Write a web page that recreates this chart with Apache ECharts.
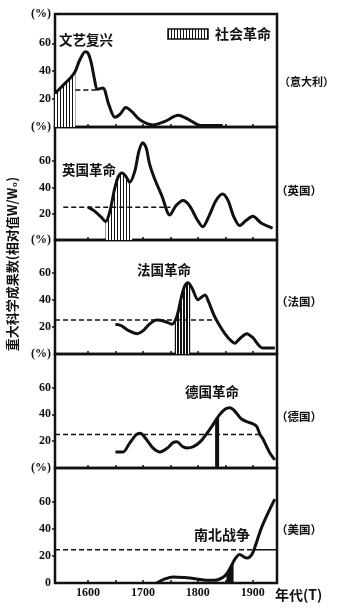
<!DOCTYPE html>
<html><head><meta charset="utf-8">
<script src="https://cdn.jsdelivr.net/npm/echarts@6/dist/echarts.min.js"></script>
<style>html,body{margin:0;padding:0;background:#fff}#c{width:340px;height:611px}</style>
</head><body><div id="c"></div>
<script>
// ---- data ----
const xTickLabels = [1600, 1700, 1800, 1900];

const italyYears = [1540,1555,1570,1577,1585,1595,1600,1606,1612,1617,1627,1638,1649,1658,1669,1680,1695,1718,1740,1764,1785,1805,1845];
const italyVals  = [24,30,36,40,48,54,53,46,34,27,28,16,7,9,14,11,5,1.5,4,8.5,5,1,1];
const italyHatchYears = [1540,1555,1570,1577];
const italyHatchVals  = [24,30,36,40];
const italyMeanYears = [1577,1616];
const italyMeanVals  = [26.5,26.5];

const ukYears = [1600,1612,1625,1632,1640,1648,1655,1662,1668,1676,1685,1693,1700,1706,1712,1720,1735,1749,1760,1773,1785,1798,1809,1820,1833,1845,1855,1865,1876,1888,1900,1915,1936];
const ukVals  = [25,22,17,14,22,38,48,51,49,44,52,68,74,70,58,48,33,19,26,30,26,16,10,18,30,35,30,18,11,15,18,13,9];
const ukHatchYears = [1632,1640,1648,1655,1662,1668,1676,1680];
const ukHatchVals  = [14,22,38,48,51,49,44,46];
const ukMeanYears = [1555,1750];
const ukMeanVals  = [25,25];

const frYears = [1650,1660,1675,1690,1700,1712,1725,1740,1753,1762,1770,1776,1782,1790,1800,1807,1813,1820,1830,1844,1855,1867,1878,1889,1900,1918,1940];
const frVals  = [22,21,17,15,17,22,25,24,22,28,42,50,52.5,48,40,42,43.5,38,28,18,12,8,12,15,12,4.5,4.5];
const frHatchYears = [1758,1762,1770,1776,1782,1786];
const frHatchVals  = [25,28,42,50,52.5,51];
const frMeanYears = [1540,1835];
const frMeanVals  = [25,25];

const deYears = [1650,1664,1675,1688,1695,1705,1718,1731,1745,1755,1762,1772,1780,1792,1804,1815,1827,1840,1850,1858,1866,1878,1889,1900,1907,1913,1918,1930,1940];
const deVals  = [12,12,18,25,26,22,15,12,15,19,19.5,16,15,16,19.5,25,32,40,44,45,43,37,34.5,33,31,25,22,12,6];
const deRevYears = [1835];
const deRevVals  = [37];
const deMeanYears = [1540,1913];
const deMeanVals  = [25,25];

const usYears = [1725,1740,1755,1775,1798,1815,1830,1845,1853,1860,1868,1876,1885,1890,1898,1905,1915,1928,1940];
const usVals  = [0,3,4.5,4,3,2,2,4,7,12,18,21,19,18.5,21,28,40,52,62];
const usHatchYears = [1852,1858,1865];
const usHatchVals  = [6.5,11,15];
const usMeanYears = [1540,1900];
const usMeanVals  = [24.5,24.5];
const usMeanSolidYears = [1900,1944];
const usMeanSolidVals  = [24.5,24.5];

// ---- helpers ----
function pairs(xs, ys){ return xs.map((x,i)=>[x, ys[i]]); }
function hatch(gap, w){
  const c = document.createElement('canvas'); c.width = gap; c.height = 8;
  const g = c.getContext('2d'); g.fillStyle = '#fff'; g.fillRect(0,0,gap,8);
  g.fillStyle = '#111'; g.fillRect(0,0,w,8); return c;
}
const pat1 = {image: hatch(3,1), repeat: 'repeat'};
const pat2 = {image: hatch(3,2), repeat: 'repeat'};

const NUMFONT = '"Liberation Serif", serif';
const CJK = '"Noto Sans CJK SC", sans-serif';

const panels = [
  {top:14,  h:113, max:81, line:pairs(italyYears,italyVals), hatch:pairs(italyHatchYears,italyHatchVals), pat:pat1, mean:pairs(italyMeanYears,italyMeanVals)},
  {top:127, h:113, max:86, line:pairs(ukYears,ukVals), hatch:pairs(ukHatchYears,ukHatchVals), pat:pat1, mean:pairs(ukMeanYears,ukMeanVals)},
  {top:240, h:114, max:84, line:pairs(frYears,frVals), hatch:pairs(frHatchYears,frHatchVals), pat:pat2, mean:pairs(frMeanYears,frMeanVals)},
  {top:354, h:114, max:85, line:pairs(deYears,deVals), hatch:null, pat:null, mean:pairs(deMeanYears,deMeanVals), bar:pairs(deRevYears,deRevVals)},
  {top:468, h:115, max:85, line:pairs(usYears,usVals), hatch:pairs(usHatchYears,usHatchVals), pat:'#111', mean:pairs(usMeanYears,usMeanVals), solid:pairs(usMeanSolidYears,usMeanSolidVals)}
];

const grid = [], xAxis = [], yAxis = [], series = [];
panels.forEach((p, i) => {
  grid.push({left:55, width:222, top:p.top, height:p.h, show:true, borderColor:'#111', borderWidth:2.5, backgroundColor:'transparent'});
  xAxis.push({type:'value', gridIndex:i, min:1540, max:1944,
    axisLine:{show:false}, splitLine:{show:false},
    axisTick:{show:true, inside:true, length:3, lineStyle:{color:'#111', width:1.5}, customValues:[1600,1650,1700,1750,1800,1850,1900]},
    axisLabel:{show:i===4, customValues:xTickLabels, formatter: v => String(v), color:'#111', fontFamily:NUMFONT, fontWeight:'bold', fontSize:12, margin:4}
  });
  const lv = i===4 ? [0,20,40,60,p.max] : [20,40,60,p.max];
  yAxis.push({type:'value', gridIndex:i, min:0, max:p.max, interval:20,
    axisLine:{show:false}, splitLine:{show:false},
    axisTick:{show:true, length:3, lineStyle:{color:'#111', width:1.5}, customValues:[20,40,60]},
    axisLabel:{customValues:lv, color:'#111', fontFamily:NUMFONT, fontWeight:'bold', fontSize:12, margin:4,
      formatter: v => v === p.max ? '(%)' : String(v)}
  });
  if (p.hatch) series.push({type:'line', xAxisIndex:i, yAxisIndex:i, data:p.hatch, smooth:0.3, symbol:'none',
    lineStyle:{width:0}, areaStyle:{color:p.pat, opacity:1, origin:'start'}, z:1});
  if (p.bar) series.push({type:'bar', xAxisIndex:i, yAxisIndex:i, data:p.bar, barWidth:4, itemStyle:{color:'#111'}, z:1});
  series.push({type:'line', xAxisIndex:i, yAxisIndex:i, data:p.mean, symbol:'none', lineStyle:{color:'#111', width:1.5, type:[5,3]}, z:2});
  if (p.solid) series.push({type:'line', xAxisIndex:i, yAxisIndex:i, data:p.solid, symbol:'none', lineStyle:{color:'#111', width:1.5}, z:2});
  series.push({type:'line', xAxisIndex:i, yAxisIndex:i, data:p.line, smooth:0.3, symbol:'none', lineStyle:{color:'#111', width:3}, z:3});
});

const t = (text, x, y, size, extra) => Object.assign({type:'text', x, y,
  style:{text, fill:'#111', font:'bold '+size+'px '+CJK, textVerticalAlign:'middle'}}, extra||{});

const graphic = [
  t('文艺复兴', 59, 40, 13.5),
  {type:'rect', shape:{x:168, y:29, width:40, height:10}, style:{fill:pat1, stroke:'#111', lineWidth:1.5}},
  t('社会革命', 215, 34, 14),
  t('英国革命', 62, 170, 13.5),
  t('法国革命', 137, 270, 13.5),
  t('德国革命', 185, 392, 13.5),
  t('南北战争', 194, 535, 14),
  t('（意大利）', 279, 82, 11),
  t('（英国）', 276, 191, 11.5),
  t('（法国）', 276, 302, 11.5),
  t('（德国）', 276, 417, 11.5),
  t('（美国）', 276, 530, 11.5),
  t('年代(T)', 275, 595, 14),
  {type:'text', x:12, y:264, rotation:Math.PI/2,
    style:{text:'重大科学成果数(相对值W/W₀)', fill:'#111', font:'bold 13px '+CJK, textAlign:'center', textVerticalAlign:'middle'}}
];

const chart = echarts.init(document.getElementById('c'), null, {renderer:'canvas'});
chart.setOption({animation:false, backgroundColor:'#fff', grid, xAxis, yAxis, series, graphic});
</script>
</body></html>
